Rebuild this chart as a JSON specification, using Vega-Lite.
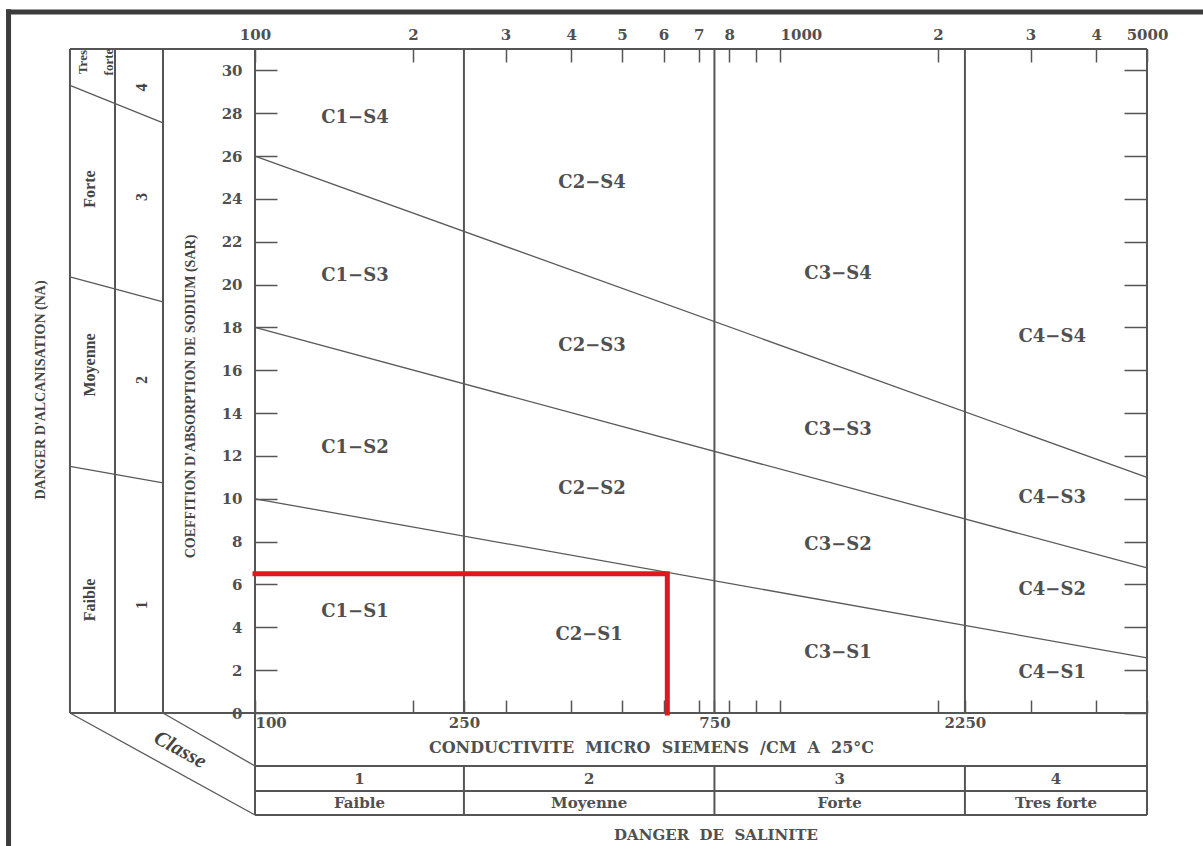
{
  "$schema": "https://vega.github.io/schema/vega-lite/v6.json",
  "width": 892,
  "height": 664,
  "autosize": {"type": "none"},
  "padding": {"left": 255, "top": 49, "right": 56, "bottom": 133},
  "background": "#ffffff",
  "config": {"view": {"stroke": null}},
  "datasets": {
    "page_border": [
      {"ec": 33.93, "sar": 32.85, "ec2": 33.93, "sar2": -6.3},
      {"ec": 33.56, "sar": 32.73, "ec2": 6400, "sar2": 32.73}
    ],
    "frame": [
      {"ec": 100, "sar": 31, "ec2": 100, "sar2": -4.762},
      {"ec": 5000, "sar": 31, "ec2": 5000, "sar2": -4.762},
      {"ec": 250, "sar": 0, "ec2": 250, "sar2": 31},
      {"ec": 750, "sar": 0, "ec2": 750, "sar2": 31},
      {"ec": 2250, "sar": 0, "ec2": 2250, "sar2": 31},
      {"ec": 44.42, "sar": 31, "ec2": 5000, "sar2": 31},
      {"ec": 44.42, "sar": 0, "ec2": 5000, "sar2": 0},
      {"ec": 44.42, "sar": 0, "ec2": 44.42, "sar2": 31},
      {"ec": 54.12, "sar": 0, "ec2": 54.12, "sar2": 31},
      {"ec": 66.8, "sar": 0, "ec2": 66.8, "sar2": 31},
      {"ec": 100, "sar": -2.474, "ec2": 5000, "sar2": -2.474},
      {"ec": 100, "sar": -3.642, "ec2": 5000, "sar2": -3.642},
      {"ec": 100, "sar": -4.762, "ec2": 5000, "sar2": -4.762},
      {"ec": 250, "sar": -2.474, "ec2": 250, "sar2": -4.762},
      {"ec": 750, "sar": -2.474, "ec2": 750, "sar2": -4.762},
      {"ec": 2250, "sar": -2.474, "ec2": 2250, "sar2": -4.762}
    ],
    "boundaries": [
      {"ec": 44.42, "sar": 0, "ec2": 100, "sar2": -4.762},
      {"ec": 66.8, "sar": 0, "ec2": 100, "sar2": -2.474},
      {"ec": 44.42, "sar": 29.3, "ec2": 66.8, "sar2": 27.55},
      {"ec": 44.42, "sar": 20.36, "ec2": 66.8, "sar2": 19.19},
      {"ec": 44.42, "sar": 11.51, "ec2": 66.8, "sar2": 10.74},
      {"ec": 100, "sar": 26, "ec2": 5000, "sar2": 11.0},
      {"ec": 100, "sar": 18, "ec2": 5000, "sar2": 6.77},
      {"ec": 100, "sar": 10, "ec2": 5000, "sar2": 2.57}
    ],
    "sample": [
      {"ec": 100, "sar": 6.5, "o": 1},
      {"ec": 610, "sar": 6.5, "o": 2},
      {"ec": 610, "sar": 0, "o": 3}
    ],
    "zones": [
      {"label": "C1−S4", "ec": 155, "sar": 27.78},
      {"label": "C1−S3", "ec": 155, "sar": 20.4},
      {"label": "C1−S2", "ec": 155, "sar": 12.37},
      {"label": "C1−S1", "ec": 155, "sar": 4.72},
      {"label": "C2−S4", "ec": 438.5, "sar": 24.74},
      {"label": "C2−S3", "ec": 438.5, "sar": 17.13},
      {"label": "C2−S2", "ec": 438.5, "sar": 10.46},
      {"label": "C2−S1", "ec": 433, "sar": 3.64},
      {"label": "C3−S4", "ec": 1290, "sar": 20.5},
      {"label": "C3−S3", "ec": 1290, "sar": 13.21},
      {"label": "C3−S2", "ec": 1290, "sar": 7.84},
      {"label": "C3−S1", "ec": 1290, "sar": 2.8},
      {"label": "C4−S4", "ec": 3300, "sar": 17.55},
      {"label": "C4−S3", "ec": 3300, "sar": 10.04},
      {"label": "C4−S2", "ec": 3300, "sar": 5.74},
      {"label": "C4−S1", "ec": 3300, "sar": 1.87}
    ],
    "salinity_classes": [
      {"label": "1", "ec": 158.1, "sar": -3.08},
      {"label": "2", "ec": 433, "sar": -3.08},
      {"label": "3", "ec": 1299, "sar": -3.08},
      {"label": "4", "ec": 3354, "sar": -3.08},
      {"label": "Faible", "ec": 158.1, "sar": -4.2},
      {"label": "Moyenne", "ec": 433, "sar": -4.2},
      {"label": "Forte", "ec": 1299, "sar": -4.2},
      {"label": "Tres forte", "ec": 3354, "sar": -4.2}
    ],
    "alkali_classes": [
      {"label": "4", "ec": 60.93, "sar": 29.2},
      {"label": "3", "ec": 60.93, "sar": 24.09},
      {"label": "2", "ec": 60.93, "sar": 15.55},
      {"label": "1", "ec": 60.93, "sar": 5.04},
      {"label": "Forte", "ec": 48.5, "sar": 24.46},
      {"label": "Moyenne", "ec": 48.5, "sar": 16.25},
      {"label": "Faible", "ec": 48.5, "sar": 5.28}
    ]
  },
  "encoding": {
    "x": {"field": "ec", "type": "quantitative", "scale": {"type": "log", "domain": [100, 5000], "nice": false}, "axis": null},
    "y": {"field": "sar", "type": "quantitative", "scale": {"domain": [0, 31], "nice": false, "zero": false}, "axis": null}
  },
  "layer": [
    {
      "data": {"name": "page_border"},
      "mark": {"type": "rule", "strokeWidth": 5, "color": "#3c3c3c"},
      "encoding": {
        "x": {"field": "ec", "type": "quantitative", "scale": {"type": "log", "domain": [100, 5000], "nice": false},
          "axis": {"orient": "bottom", "values": [100, 200, 250, 300, 400, 500, 600, 700, 750, 800, 900, 1000, 2000, 2250, 3000, 4000, 5000],
            "labelExpr": "datum.value == 100 || datum.value == 250 || datum.value == 750 || datum.value == 2250 ? '' + datum.value : ''",
            "domain": false, "grid": false, "tickSize": -13, "tickWidth": 1.5, "tickColor": "#555",
            "labelPadding": 15, "labelFont": "DejaVu Serif", "labelFontSize": 15, "labelFontWeight": "bold", "labelColor": "#505050",
            "labelOverlap": false, "labelFlush": false, "labelBound": false,
            "labelAlign": {"condition": {"test": "datum.value == 100", "value": "left"}, "value": "center"},
            "title": "CONDUCTIVITE\u00a0\u00a0MICRO\u00a0\u00a0SIEMENS\u00a0\u00a0/CM\u00a0\u00a0A\u00a0\u00a025°C",
            "titleX": 396, "titleY": 34, "titleAlign": "center", "titleBaseline": "middle", "titleAngle": 0,
            "titleFont": "DejaVu Serif", "titleFontSize": 16, "titleFontWeight": "bold", "titleColor": "#505050"}},
        "x2": {"field": "ec2"},
        "y": {"field": "sar", "type": "quantitative", "scale": {"domain": [0, 31], "nice": false, "zero": false},
          "axis": {"orient": "right", "values": [0, 2, 4, 6, 8, 10, 12, 14, 16, 18, 20, 22, 24, 26, 28, 30],
            "labels": false, "domain": false, "grid": false, "tickSize": -23, "tickWidth": 1.5, "tickColor": "#555", "title": null}},
        "y2": {"field": "sar2"}
      }
    },
    {
      "data": {"name": "frame"},
      "mark": {"type": "rule", "strokeWidth": 2, "color": "#555555"},
      "encoding": {
        "x": {"field": "ec", "type": "quantitative", "scale": {"type": "log", "domain": [100, 5000], "nice": false},
          "axis": {"orient": "top", "values": [100, 200, 300, 400, 500, 600, 700, 800, 900, 1000, 2000, 3000, 4000, 5000],
            "labelExpr": "datum.value == 100 || datum.value == 1000 || datum.value == 5000 ? '' + datum.value : (datum.value == 900 ? '' : '' + (datum.value < 1000 ? datum.value / 100 : datum.value / 1000))",
            "domain": false, "grid": false, "title": null, "tickSize": -13, "tickWidth": 1.5, "tickColor": "#555",
            "labelPadding": 20, "labelFont": "DejaVu Serif", "labelFontSize": 15, "labelFontWeight": "bold", "labelColor": "#505050",
            "labelOverlap": false, "labelFlush": false, "labelBound": false,
            "labelAlign": {"condition": {"test": "datum.value == 1000", "value": "left"}, "value": "center"}}},
        "x2": {"field": "ec2"},
        "y": {"field": "sar", "type": "quantitative", "scale": {"domain": [0, 31], "nice": false, "zero": false},
          "axis": {"orient": "left", "values": [0, 2, 4, 6, 8, 10, 12, 14, 16, 18, 20, 22, 24, 26, 28, 30],
            "domain": false, "grid": false, "tickSize": -22, "tickWidth": 1.5, "tickColor": "#555",
            "labelPadding": 35, "labelFont": "DejaVu Serif", "labelFontSize": 15, "labelFontWeight": "bold", "labelColor": "#505050",
            "labelOverlap": false, "labelFlush": false, "labelBound": false,
            "title": "COEFFITION D'ABSORPTION DE SODIUM (SAR)",
            "titleX": -65, "titleY": 347, "titleAngle": 270, "titleAlign": "center", "titleBaseline": "middle",
            "titleFont": "Liberation Serif", "titleFontSize": 14, "titleFontWeight": "bold", "titleColor": "#444"}},
        "y2": {"field": "sar2"}
      }
    },
    {
      "data": {"name": "boundaries"},
      "mark": {"type": "rule", "strokeWidth": 1.3, "color": "#5a5a5a"},
      "encoding": {"x2": {"field": "ec2"}, "y2": {"field": "sar2"}}
    },
    {
      "data": {"name": "sample"},
      "mark": {"type": "line", "strokeWidth": 5, "color": "#e3161d", "strokeCap": "square", "strokeJoin": "miter"},
      "encoding": {"order": {"field": "o", "type": "quantitative"}}
    },
    {
      "data": {"name": "zones"},
      "mark": {"type": "text", "font": "DejaVu Serif", "fontSize": 18, "fontWeight": "bold", "color": "#505050", "align": "center", "baseline": "middle"},
      "encoding": {"text": {"field": "label"}}
    },
    {
      "data": {"name": "salinity_classes"},
      "mark": {"type": "text", "font": "DejaVu Serif", "fontSize": 15, "fontWeight": "bold", "color": "#505050", "align": "center", "baseline": "middle"},
      "encoding": {"text": {"field": "label"}}
    },
    {
      "data": {"name": "alkali_classes"},
      "mark": {"type": "text", "font": "Liberation Serif", "fontSize": 16, "fontWeight": "bold", "color": "#444", "align": "center", "baseline": "middle", "angle": 270},
      "encoding": {"text": {"field": "label"}}
    },
    {
      "data": {"values": [{"label": "Tres forte", "ec": 46.93, "sar": 30.39}]},
      "mark": {"type": "text", "font": "Liberation Serif", "fontSize": 13, "fontWeight": "bold", "color": "#444", "align": "center", "baseline": "middle", "angle": 270, "lineBreak": " ", "lineHeight": 26},
      "encoding": {"text": {"field": "label"}}
    },
    {
      "data": {"values": [{"label": "DANGER D'ALCANISATION (NA)", "ec": 39.1, "sar": 15.08}]},
      "mark": {"type": "text", "font": "Liberation Serif", "fontSize": 14, "fontWeight": "bold", "color": "#444", "align": "center", "baseline": "middle", "angle": 270},
      "encoding": {"text": {"field": "label"}}
    },
    {
      "data": {"values": [{"label": "DANGER\u00a0\u00a0DE\u00a0\u00a0SALINITE", "ec": 755, "sar": -5.7}]},
      "mark": {"type": "text", "font": "DejaVu Serif", "fontSize": 15, "fontWeight": "bold", "color": "#505050", "align": "center", "baseline": "middle"},
      "encoding": {"text": {"field": "label"}}
    },
    {
      "data": {"values": [{"label": "Classe", "ec": 71.97, "sar": -1.727}]},
      "mark": {"type": "text", "font": "Liberation Serif", "fontSize": 21, "fontWeight": "bold", "fontStyle": "italic", "color": "#444", "align": "center", "baseline": "middle", "angle": 29},
      "encoding": {"text": {"field": "label"}}
    }
  ],
  "resolve": {"axis": {"x": "independent", "y": "independent"}}
}
